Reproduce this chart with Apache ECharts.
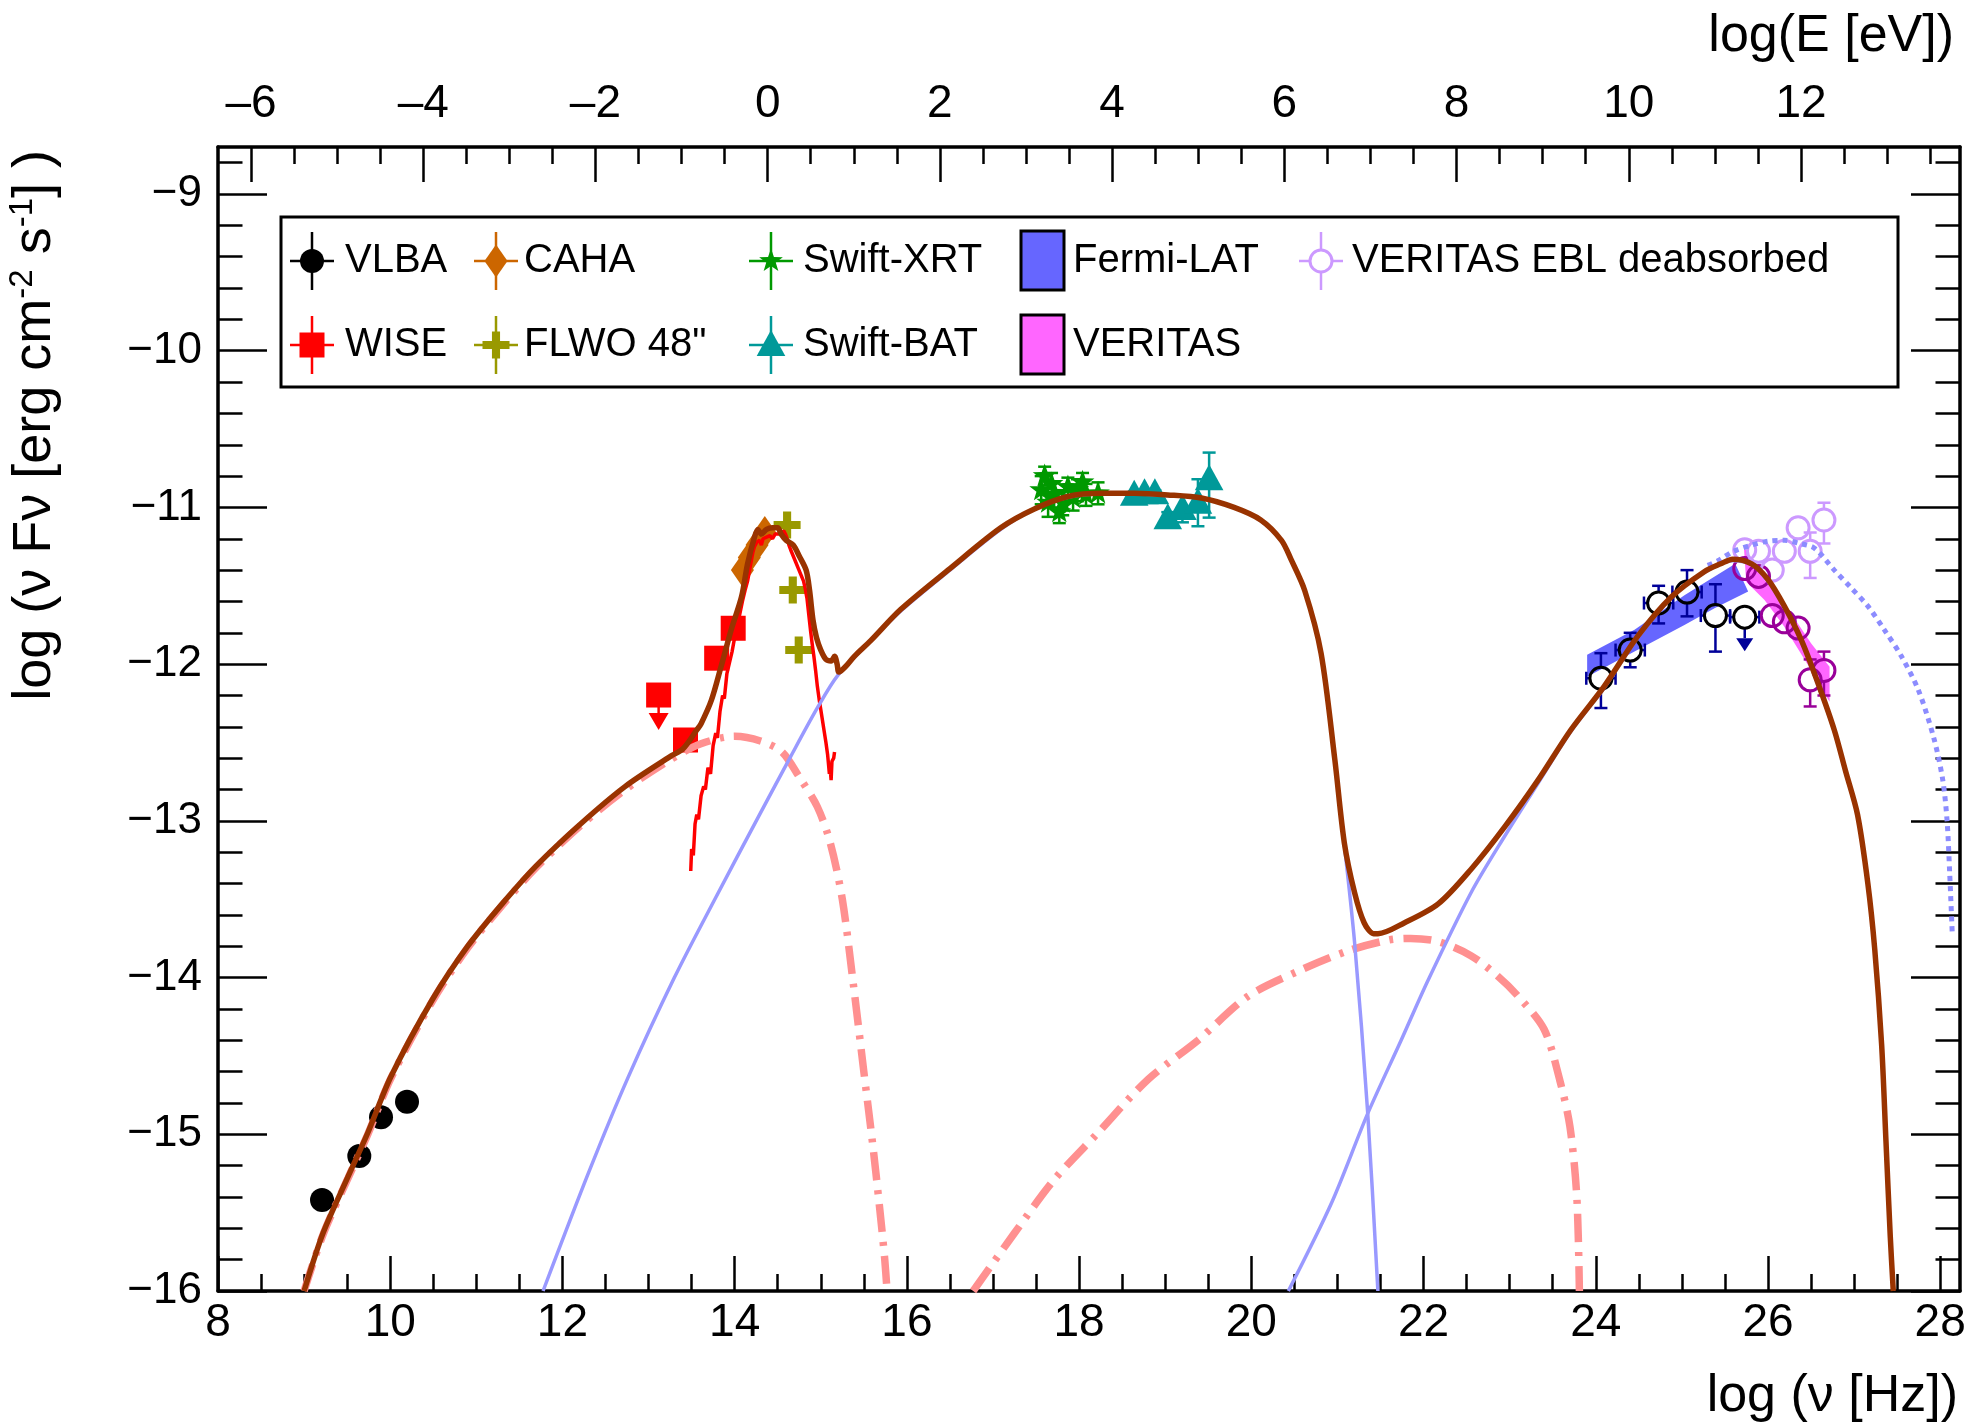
<!DOCTYPE html>
<html>
<head>
<meta charset="utf-8">
<title>Broadband SED</title>
<script src="https://cdn.jsdelivr.net/npm/echarts@6.0.0/dist/echarts.min.js"></script>
<style>
  html, body { margin: 0; padding: 0; background: #ffffff; }
  #sed { width: 1967px; height: 1428px; }
</style>
</head>
<body>
<div id="sed"></div>
<script>
// ---------------- axes ----------------
// x: log10(nu / Hz), y: log10(nu F_nu / erg cm^-2 s^-1), top: log10(E / eV)
const nuMin = 8, nuMax = 28.23;
const fluxMin = -16, fluxMax = -8.7;
const LOG_H_EV = -14.3834;            // log10 of Planck constant in eV s

const nuTicks = [8, 10, 12, 14, 16, 18, 20, 22, 24, 26, 28];
const fluxTicks = [-16, -15, -14, -13, -12, -11, -10, -9];
const energyTicks = [-6, -4, -2, 0, 2, 4, 6, 8, 10, 12];

function steps(from, to, step) {
  const out = [];
  for (let v = from; v <= to + 1e-9; v += step) out.push(Math.round(v * 1000) / 1000);
  return out;
}
const nuMinorTicks = steps(8, 28, 0.5);
const fluxMinorTicks = steps(-16, -8.8, 0.2);
const energyMinorTicks = steps(-6, 13.5, 0.5);

// ---------------- model curves [log nu, log nuFnu] ----------------
const totalModel = [
  [9.00,-16.00],[9.22,-15.63],[9.51,-15.27],[9.74,-14.99],[10.01,-14.63],[10.49,-14.14],
  [10.90,-13.80],[11.33,-13.51],[11.69,-13.29],[12.21,-13.02],[12.73,-12.78],[13.25,-12.59],
  [13.40,-12.54],[13.56,-12.42],[13.61,-12.38],[13.73,-12.23],[13.84,-12.02],[13.96,-11.78],
  [14.08,-11.57],[14.15,-11.36],[14.23,-11.19],[14.27,-11.14],[14.31,-11.17],[14.37,-11.14],
  [14.44,-11.13],[14.50,-11.13],[14.54,-11.17],[14.60,-11.21],[14.68,-11.24],[14.75,-11.31],
  [14.83,-11.40],[14.87,-11.53],[14.91,-11.72],[14.95,-11.83],[15.00,-11.91],[15.06,-11.97],
  [15.12,-11.98],[15.16,-11.95],[15.19,-12.00],[15.21,-12.05],[15.28,-12.02],[15.39,-11.95],
  [15.58,-11.85],[15.93,-11.65],[16.50,-11.39],[17.09,-11.13],[17.48,-11.01],[17.87,-10.93],
  [18.26,-10.91],[18.64,-10.91],[19.03,-10.92],[19.42,-10.94],[19.80,-11.00],[20.11,-11.08],
  [20.35,-11.21],[20.46,-11.33],[20.62,-11.53],[20.81,-11.93],[20.97,-12.61],[21.08,-13.14],
  [21.20,-13.46],[21.31,-13.65],[21.42,-13.72],[21.47,-13.72],[21.78,-13.65],[22.17,-13.53],
  [22.55,-13.31],[22.94,-13.04],[23.33,-12.74],[23.71,-12.42],[24.10,-12.14],[24.49,-11.82],
  [24.88,-11.57],[25.26,-11.41],[25.45,-11.36],[25.59,-11.33],[25.81,-11.36],[26.00,-11.46],
  [26.19,-11.63],[26.39,-11.85],[26.58,-12.12],[26.77,-12.42],[26.90,-12.68],[27.04,-12.96],
  [27.16,-13.40],[27.24,-13.82],[27.32,-14.43],[27.37,-15.04],[27.42,-15.65],[27.455,-16.00]
];
const zone1Sync = [
  [9.00,-16.00],[9.22,-15.64],[9.51,-15.28],[9.74,-15.00],[10.01,-14.64],[10.49,-14.15],
  [10.90,-13.81],[11.33,-13.52],[11.69,-13.30],[12.21,-13.03],[12.73,-12.80],[13.25,-12.61],
  [13.60,-12.51],[14.00,-12.46],[14.30,-12.49],[14.55,-12.56],[14.75,-12.72],[14.96,-12.91],
  [15.11,-13.14],[15.25,-13.50],[15.38,-14.05],[15.50,-14.60],[15.60,-15.05],[15.68,-15.45],
  [15.74,-15.78],[15.77,-16.00]
];
const zone1SSC = [
  [16.77,-16.00],[17.25,-15.63],[17.71,-15.29],[18.22,-14.99],[18.80,-14.65],[19.38,-14.40],
  [19.96,-14.12],[20.54,-13.96],[21.12,-13.83],[21.60,-13.76],[21.85,-13.75],[22.17,-13.77],
  [22.55,-13.86],[22.86,-13.99],[23.10,-14.12],[23.40,-14.33],[23.58,-14.65],[23.70,-14.95],
  [23.78,-15.40],[23.81,-16.00]
];
const zone2Sync = [
  [11.775,-16.00],[12.30,-15.25],[12.76,-14.64],[13.30,-14.00],[13.77,-13.50],[14.28,-12.97],
  [14.65,-12.59],[14.97,-12.27],[15.20,-12.07],[15.58,-11.85],[15.93,-11.66],[16.50,-11.40],
  [17.09,-11.14],[17.48,-11.01],[17.87,-10.935],[18.26,-10.915],[18.64,-10.915],[19.03,-10.925],
  [19.42,-10.94],[19.80,-11.00],[20.11,-11.085],[20.35,-11.215],[20.46,-11.335],[20.62,-11.535],
  [20.81,-11.935],[20.97,-12.62],[21.08,-13.15],[21.20,-13.78],[21.35,-14.85],[21.47,-16.00]
];
const zone2SSC = [
  [20.43,-16.00],[20.93,-15.44],[21.35,-14.87],[21.74,-14.40],[22.05,-14.02],[22.55,-13.46],
  [22.94,-13.10],[23.33,-12.76],[23.71,-12.43],[24.10,-12.15],[24.49,-11.83],[24.88,-11.575],
  [25.26,-11.415],[25.59,-11.34],[25.81,-11.365],[26.00,-11.47],[26.19,-11.64],[26.39,-11.855],
  [26.58,-12.13],[26.77,-12.43],[26.90,-12.69],[27.04,-12.97],[27.16,-13.41],[27.24,-13.83],
  [27.32,-14.44],[27.37,-15.05],[27.42,-15.66],[27.455,-16.00]
];
const deabsorbedModel = [
  [25.30,-11.37],[25.42,-11.34],[25.60,-11.28],[25.81,-11.24],[26.00,-11.215],[26.19,-11.21],
  [26.37,-11.23],[26.54,-11.26],[26.77,-11.40],[26.96,-11.51],[27.16,-11.63],[27.35,-11.78],
  [27.55,-11.95],[27.75,-12.17],[27.93,-12.48],[28.03,-12.74],[28.08,-13.00],[28.11,-13.33],
  [28.14,-13.72]
];
// optical spectrum (CAHA)
const opticalSpectrum = [
  [13.49,-13.32],[13.50,-13.18],[13.52,-13.22],[13.54,-13.02],[13.56,-12.96],[13.58,-12.99],
  [13.61,-12.84],[13.64,-12.78],[13.66,-12.80],[13.69,-12.66],[13.72,-12.70],[13.75,-12.52],
  [13.78,-12.44],[13.80,-12.47],[13.83,-12.30],[13.86,-12.20],[13.88,-12.22],[13.91,-12.06],
  [13.94,-11.99],[13.97,-11.92],[14.00,-11.83],[14.03,-11.76],[14.06,-11.68],[14.09,-11.60],
  [14.12,-11.53],[14.15,-11.47],[14.18,-11.38],[14.21,-11.29],[14.23,-11.25],[14.26,-11.22],
  [14.29,-11.21],[14.31,-11.24],[14.33,-11.20],[14.37,-11.19],[14.41,-11.18],[14.44,-11.20],
  [14.47,-11.17],[14.51,-11.17],[14.54,-11.16],[14.57,-11.15],[14.59,-11.17],[14.61,-11.20],
  [14.63,-11.24],[14.65,-11.27],[14.68,-11.31],[14.71,-11.35],[14.74,-11.39],[14.77,-11.43],
  [14.80,-11.47],[14.82,-11.52],[14.84,-11.58],[14.86,-11.68],[14.88,-11.78],[14.90,-11.87],
  [14.92,-11.95],[14.94,-12.04],[14.96,-12.14],[14.98,-12.22],[15.00,-12.29],[15.02,-12.36],
  [15.04,-12.43],[15.06,-12.50],[15.08,-12.58],[15.09,-12.64],[15.10,-12.70],[15.11,-12.67],
  [15.12,-12.74],[15.13,-12.62],[15.15,-12.60],[15.16,-12.56]
];

// ---------------- measurements ----------------
// [log nu, log nuFnu, err low, err high, err log nu, upper limit]
const vlba = [[9.208,-15.419],[9.641,-15.138],[9.893,-14.891],[10.195,-14.792]];
const wise = [[13.117,-12.197,0,0,0,1],[13.429,-12.484],[13.791,-11.962],[13.983,-11.771]];
const caha = [[14.09,-11.40],[14.17,-11.32],[14.26,-11.24],[14.35,-11.16]];
const flwo = [[14.609,-11.112],[14.675,-11.527],[14.744,-11.91]];
const swiftXrt = [
  [17.56,-10.89,0.09,0.09],[17.60,-10.80,0.06,0.06],[17.64,-10.97,0.09,0.09],[17.68,-10.85,0.07,0.07],
  [17.71,-10.92,0.08,0.08],[17.77,-11.03,0.07,0.07],[17.81,-10.97,0.08,0.08],[17.87,-10.87,0.06,0.06],
  [17.93,-10.94,0.08,0.08],[17.98,-10.89,0.07,0.07],[18.04,-10.84,0.06,0.06],[18.08,-10.92,0.07,0.07],
  [18.22,-10.91,0.07,0.07]
];
const swiftBat = [
  [18.64,-10.92,0.02,0.02],[18.76,-10.91,0.02,0.02],[18.88,-10.91,0.02,0.02],[19.03,-11.07,0.04,0.04],
  [19.20,-11.01,0.085,0.085],[19.38,-10.97,0.15,0.15],[19.51,-10.82,0.245,0.17]
];
const fermiLat = [
  [24.06,-12.09,0.19,0.16,0.17],[24.40,-11.91,0.11,0.11,0.17],[24.73,-11.61,0.13,0.11,0.17],
  [25.06,-11.54,0.155,0.14,0.17],[25.39,-11.69,0.23,0.20,0.17],[25.73,-11.70,0,0,0.17,1]
];
const veritas = [
  [25.73,-11.39,0.05,0.05],[25.89,-11.44,0.05,0.05],[26.05,-11.69,0.06,0.06],[26.19,-11.73,0.06,0.06],
  [26.35,-11.77,0.06,0.06],[26.49,-12.10,0.17,0.13],[26.65,-12.04,0.16,0.12]
];
const veritasDeabsorbed = [
  [25.73,-11.27,0.05,0.05],[25.89,-11.28,0.05,0.05],[26.05,-11.40,0.06,0.06],[26.19,-11.28,0.06,0.06],
  [26.35,-11.13,0.065,0.065],[26.49,-11.28,0.17,0.12],[26.65,-11.08,0.15,0.11]
];
// spectral butterflies (outline, clockwise)
const fermiButterfly = [
  [23.90,-11.94],[24.45,-11.78],[25.03,-11.56],[25.62,-11.36],[25.77,-11.537],
  [25.39,-11.64],[25.03,-11.75],[24.45,-11.92],[23.90,-12.08]
];
const veritasButterfly = [
  [25.72,-11.25],[25.96,-11.463],[26.19,-11.612],[26.50,-11.867],[26.715,-12.016],
  [26.715,-12.24],[26.50,-12.038],[26.19,-11.761],[25.96,-11.591],[25.747,-11.474]
];

// ---------------- drawing helpers ----------------
const FONT = '"Liberation Sans", Arial, Helvetica, sans-serif';

const STYLE = {
  vlba:   { shape: 'circle',   size: 24, color: '#000000' },
  wise:   { shape: 'square',   size: 25, color: '#ff0000', arrowLen: 18, arrowH: 17, arrowW: 10 },
  caha:   { shape: 'diamond',  size: 23, color: '#cc6600' },
  flwo:   { shape: 'plus',     size: 27, color: '#999900' },
  xrt:    { shape: 'star',     size: 25, color: '#009900', cap: 6.5 },
  bat:    { shape: 'triangle', size: 26, color: '#009999', cap: 6.5 },
  fermi:  { shape: 'circle',   size: 22, color: '#000000', barColor: '#000099', hollow: true, cap: 6.5,
            arrowLen: 21, arrowH: 13, arrowW: 8.5 },
  veritas:{ shape: 'circle',   size: 22, color: '#990099', hollow: true, cap: 6.5 },
  ebl:    { shape: 'circle',   size: 22, color: '#cc99ff', hollow: true, cap: 6.5 }
};

function marker(shape, cx, cy, s, style) {
  const h = s / 2;
  if (shape === 'circle') return [{ type: 'circle', shape: { cx, cy, r: h }, style }];
  if (shape === 'square') return [{ type: 'rect', shape: { x: cx - h, y: cy - h, width: s, height: s }, style }];
  if (shape === 'diamond') return [{ type: 'polygon', shape: { points: [[cx, cy - s * 0.72], [cx + h, cy], [cx, cy + s * 0.72], [cx - h, cy]] }, style }];
  if (shape === 'triangle') return [{ type: 'polygon', shape: { points: [[cx, cy - s * 0.58], [cx + s * 0.55, cy + s * 0.42], [cx - s * 0.55, cy + s * 0.42]] }, style }];
  if (shape === 'plus') {
    const w = s * 0.15;
    return [{ type: 'polygon', shape: { points: [
      [cx - w, cy - h], [cx + w, cy - h], [cx + w, cy - w], [cx + h, cy - w], [cx + h, cy + w], [cx + w, cy + w],
      [cx + w, cy + h], [cx - w, cy + h], [cx - w, cy + w], [cx - h, cy + w], [cx - h, cy - w], [cx - w, cy - w]] }, style }];
  }
  if (shape === 'star') {
    const pts = [];
    for (let i = 0; i < 10; i++) {
      const r = i % 2 ? s * 0.2 : h;
      const t = -Math.PI / 2 + i * Math.PI / 5;
      pts.push([cx + r * Math.cos(t), cy + r * Math.sin(t)]);
    }
    return [{ type: 'polygon', shape: { points: pts }, style }];
  }
  return [];
}

function seg(x1, y1, x2, y2, color, w) {
  return { type: 'line', shape: { x1, y1, x2, y2 }, style: { stroke: color, lineWidth: w } };
}

// marker with error bars / upper-limit arrow, in pixel coordinates
function glyph(cx, cy, spec, b, noCap) {
  const out = [];
  const bc = spec.barColor || spec.color, w = 2.5, cap = noCap ? 0 : (spec.cap || 6.5);
  const gap = spec.hollow ? spec.size / 2 : 0;
  if (b.top != null && cy - gap > b.top) {
    out.push(seg(cx, cy - gap, cx, b.top, bc, w));
    if (cap) out.push(seg(cx - cap, b.top, cx + cap, b.top, bc, w));
  }
  if (b.bottom != null && b.bottom > cy + gap) {
    out.push(seg(cx, cy + gap, cx, b.bottom, bc, w));
    if (cap) out.push(seg(cx - cap, b.bottom, cx + cap, b.bottom, bc, w));
  }
  if (b.left != null && b.left < cx - gap) {
    out.push(seg(cx - gap, cy, b.left, cy, bc, w));
    if (cap) out.push(seg(b.left, cy - cap, b.left, cy + cap, bc, w));
  }
  if (b.right != null && b.right > cx + gap) {
    out.push(seg(cx + gap, cy, b.right, cy, bc, w));
    if (cap) out.push(seg(b.right, cy - cap, b.right, cy + cap, bc, w));
  }
  if (b.ul) {
    const y1 = cy + spec.arrowLen;
    out.push(seg(cx, cy + gap, cx, y1, bc, w));
    out.push({ type: 'polygon', shape: { points: [[cx - spec.arrowW, y1], [cx + spec.arrowW, y1], [cx, y1 + spec.arrowH]] },
               style: { fill: bc } });
  }
  const st = spec.hollow ? { fill: 'none', stroke: spec.color, lineWidth: 3 } : { fill: spec.color };
  return out.concat(marker(spec.shape, cx, cy, spec.size, st));
}

function pointSeries(name, rows, spec, z) {
  const data = rows.map(r => [r[0], r[1], r[2] || 0, r[3] || 0, r[4] || 0, r[5] || 0]);
  return {
    type: 'custom', name, z, data, silent: true,
    dimensions: ['nu', 'flux', 'errLow', 'errHigh', 'errNu', 'upperLimit'],
    encode: { x: 0, y: 1 },
    renderItem: function (params, api) {
      const nu = api.value(0), f = api.value(1);
      const eLo = api.value(2), eHi = api.value(3), eNu = api.value(4);
      const c = api.coord([nu, f]);
      return {
        type: 'group',
        children: glyph(c[0], c[1], spec, {
          top: eHi ? api.coord([nu, f + eHi])[1] : null,
          bottom: eLo ? api.coord([nu, f - eLo])[1] : null,
          left: eNu ? api.coord([nu - eNu, f])[0] : null,
          right: eNu ? api.coord([nu + eNu, f])[0] : null,
          ul: api.value(5) > 0
        })
      };
    }
  };
}

function bandSeries(name, outline, color, z) {
  return {
    type: 'custom', name, z, silent: true, data: [outline[0]],
    encode: { x: 0, y: 1 },
    renderItem: function (params, api) {
      return { type: 'polygon', shape: { points: outline.map(p => api.coord(p)) }, style: { fill: color } };
    }
  };
}

function curve(name, data, color, width, z, dash) {
  return {
    type: 'line', name, data, z, silent: true, symbol: 'none', showSymbol: false,
    smooth: 0.3, clip: true,
    lineStyle: { color, width, type: dash || 'solid', cap: 'butt' }
  };
}

// ---------------- axes ----------------
const axisLineStyle = { color: '#000000', width: 3.5 };
const tickStyle = { color: '#000000', width: 2.5 };

function majorX(pos, min, max, ticks, fmt, name, nameStyle) {
  return {
    type: 'value', position: pos, min, max, gridIndex: 0,
    axisLine: { show: true, onZero: false, lineStyle: axisLineStyle },
    axisTick: { show: true, inside: true, length: 35, customValues: ticks, lineStyle: tickStyle },
    axisLabel: { show: true, customValues: ticks, formatter: fmt, margin: pos === 'top' ? 20 : 9,
                 fontFamily: FONT, fontSize: 46, color: '#000000' },
    splitLine: { show: false },
    name, nameLocation: 'end', nameGap: 0, nameMoveOverlap: false, nameTextStyle: nameStyle
  };
}
function minorX(pos, min, max, ticks) {
  return {
    type: 'value', position: pos, min, max, gridIndex: 0,
    axisLine: { show: false, onZero: false },
    axisTick: { show: true, inside: true, length: 17, customValues: ticks, lineStyle: tickStyle },
    axisLabel: { show: false }, splitLine: { show: false }
  };
}
function yAxisDef(pos, ticks, len, withLabels, withLine) {
  return {
    type: 'value', position: pos, min: fluxMin, max: fluxMax, gridIndex: 0,
    axisLine: { show: withLine, onZero: false, lineStyle: axisLineStyle },
    axisTick: { show: true, inside: true, length: len, customValues: ticks, lineStyle: tickStyle },
    axisLabel: { show: withLabels, customValues: ticks, margin: 16,
                 formatter: v => (v < 0 ? '\u2212' + (-v) : String(v)),
                 fontFamily: FONT, fontSize: 44, color: '#000000' },
    splitLine: { show: false }
  };
}

const titleFont = { fontFamily: FONT, fontSize: 52, color: '#000000' };

const option = {
  backgroundColor: '#ffffff',
  animation: false,
  grid: { left: 218, right: 7, top: 147, bottom: 137, outerBoundsMode: 'none', containLabel: false },
  xAxis: [
    majorX('bottom', nuMin, nuMax, nuTicks, v => String(v), 'log (\u03bd [Hz])',
           Object.assign({ align: 'right', verticalAlign: 'top', padding: [80, 2, 0, 0] }, titleFont)),
    minorX('bottom', nuMin, nuMax, nuMinorTicks),
    majorX('top', nuMin + LOG_H_EV, nuMax + LOG_H_EV, energyTicks, v => (v < 0 ? '\u2013' + (-v) : String(v)),
           'log(E [eV])', Object.assign({ align: 'right', verticalAlign: 'bottom', padding: [0, 6, 84, 0] }, titleFont)),
    minorX('top', nuMin + LOG_H_EV, nuMax + LOG_H_EV, energyMinorTicks)
  ],
  yAxis: [
    yAxisDef('left', fluxTicks, 49, true, true),
    yAxisDef('left', fluxMinorTicks, 24.5, false, false),
    yAxisDef('right', fluxTicks, 49, false, true),
    yAxisDef('right', fluxMinorTicks, 24.5, false, false)
  ],
  series: [
    bandSeries('Fermi-LAT', fermiButterfly, '#6666ff', 2),
    bandSeries('VERITAS', veritasButterfly, '#ff66ff', 2),
    pointSeries('VLBA', vlba, STYLE.vlba, 3),
    pointSeries('WISE', wise, STYLE.wise, 3),
    pointSeries('CAHA', caha, STYLE.caha, 3),
    pointSeries('FLWO 48"', flwo, STYLE.flwo, 3),
    pointSeries('Swift-XRT', swiftXrt, STYLE.xrt, 3),
    pointSeries('Swift-BAT', swiftBat, STYLE.bat, 3),
    pointSeries('Fermi-LAT points', fermiLat, STYLE.fermi, 3),
    pointSeries('VERITAS points', veritas, STYLE.veritas, 3),
    pointSeries('VERITAS EBL deabsorbed', veritasDeabsorbed, STYLE.ebl, 3),
    Object.assign(curve('optical spectrum', opticalSpectrum, '#ff0000', 3.5, 4), { smooth: 0 }),
    curve('zone 1 synchrotron', zone1Sync, '#ff9090', 7.5, 5, [28, 10, 4, 10]),
    curve('zone 1 SSC', zone1SSC, '#ff9090', 7.5, 5, [28, 10, 4, 10]),
    curve('zone 2 synchrotron', zone2Sync, '#9999ff', 3.5, 6),
    curve('zone 2 SSC', zone2SSC, '#9999ff', 3.5, 6),
    curve('EBL deabsorbed model', deabsorbedModel, '#8c8cff', 5, 6, [5, 5]),
    curve('total', totalModel, '#993300', 5.5, 7)
  ]
};

// ---------------- legend and y title ----------------
const legendEntries = [
  { label: 'VLBA', spec: STYLE.vlba, col: 0, row: 0 },
  { label: 'CAHA', spec: STYLE.caha, col: 1, row: 0 },
  { label: 'Swift-XRT', spec: STYLE.xrt, col: 2, row: 0 },
  { label: 'Fermi-LAT', fill: '#6666ff', col: 3, row: 0 },
  { label: 'VERITAS EBL deabsorbed', spec: STYLE.ebl, col: 4, row: 0 },
  { label: 'WISE', spec: STYLE.wise, col: 0, row: 1 },
  { label: 'FLWO 48"', spec: STYLE.flwo, col: 1, row: 1 },
  { label: 'Swift-BAT', spec: STYLE.bat, col: 2, row: 1 },
  { label: 'VERITAS', fill: '#ff66ff', col: 3, row: 1 }
];
const legendBox = { x: 281, y: 217, width: 1617, height: 170 };
const legendMarkerX = [312, 496, 771, 1042, 1321];
const legendTextX = [345, 524, 803, 1073, 1352];
const legendRowY = [261, 345];

const legendGraphics = [{
  type: 'rect', shape: legendBox, style: { fill: '#ffffff', stroke: '#000000', lineWidth: 3 }
}];
legendEntries.forEach(e => {
  const cx = legendMarkerX[e.col], cy = legendRowY[e.row];
  if (e.fill) {
    legendGraphics.push({ type: 'rect', shape: { x: cx - 21, y: cy - 30, width: 43, height: 59 },
                          style: { fill: e.fill, stroke: '#000000', lineWidth: 3 } });
  } else {
    glyph(cx, cy, e.spec, { top: cy - 29, bottom: cy + 29, left: cx - 22, right: cx + 22 }, true)
      .forEach(g => legendGraphics.push(g));
  }
  legendGraphics.push({ type: 'text', x: legendTextX[e.col], y: cy,
    style: { text: e.label, fontFamily: FONT, fontSize: 40, fill: '#000000', align: 'left', verticalAlign: 'middle' } });
});

option.graphic = [
  { type: 'group', z: 100, children: legendGraphics },
  {
    type: 'text', z: 100, x: 35, y: 150, rotation: Math.PI / 2,
    style: {
      text: '{n|log (\u03bd F\u03bd [erg cm}{s|-2}{n| s}{s|-1}{n|] )}',
      align: 'right', verticalAlign: 'middle', fill: '#000000',
      rich: {
        n: { fontFamily: FONT, fontSize: 54, lineHeight: 58, fill: '#000000' },
        s: { fontFamily: FONT, fontSize: 33, lineHeight: 33, verticalAlign: 'top', fill: '#000000' }
      }
    }
  }
];

const chart = echarts.init(document.getElementById('sed'), null, { renderer: 'canvas' });
chart.setOption(option);
</script>
</body>
</html>
